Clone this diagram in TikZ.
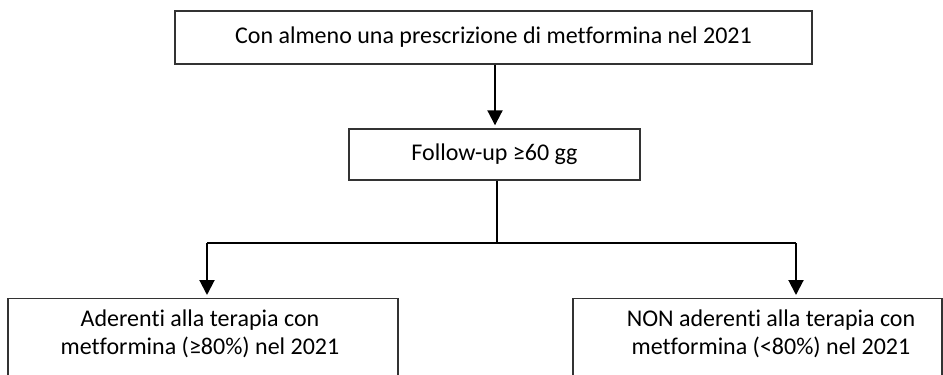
\documentclass[tikz,border=0pt]{standalone}
\usepackage{fontspec}
\setmainfont{Carlito}[Ligatures={NoCommon}]
\usetikzlibrary{arrows.meta}
\tikzset{
  box/.style={draw=black!80, line width=1.4pt, inner sep=0pt},
  lbl/.style={font=\fontsize{24}{28.5}\selectfont, align=center, inner sep=0pt},
  conn/.style={line width=2pt, black},
  arr/.style={conn, -{Triangle[length=15pt,width=15pt]}, shorten >=3pt}
}
\begin{document}
\begin{tikzpicture}[x=1pt,y=-1pt]
\useasboundingbox (0,0) rectangle (943,375);
\clip (0,0) rectangle (943,375);
% boxes
\node[box, minimum width=637pt, minimum height=53pt] (top) at (493.5,37.5) {};
\node[lbl] (toptxt) at (493.5,37.5) {Con almeno una prescrizione di metformina nel 2021};
\node[box, minimum width=291pt, minimum height=51pt] (fu) at (494.5,154.5) {};
\node[lbl] (futxt) at (494.5,154.5) {Follow-up ≥60 gg};
\node[box, anchor=north, minimum width=390pt, minimum height=120pt] (bl) at (203,298) {};
\node[lbl] (bltxt) at (200,334) {Aderenti alla terapia con\\metformina (≥80\%) nel 2021};
\node[box, anchor=north, minimum width=369pt, minimum height=120pt] (br) at (757.5,298) {};
\node[lbl] (brtxt) at (771,334) {NON aderenti alla terapia con\\metformina (<80\%) nel 2021};
% connectors
\coordinate (jc) at (497,243);
\coordinate (jl) at (207,243);
\coordinate (jr) at (796,243);
\draw[arr] (495,0 |- top.south) -- (495,0 |- fu.north);
\draw[conn] (497,0 |- fu.south) -- (jc);
\draw[conn] (jl) -- (jr);
\draw[arr] (jl) -- (jl |- bl.north);
\draw[arr] (jr) -- (jr |- br.north);
\end{tikzpicture}
\end{document}
